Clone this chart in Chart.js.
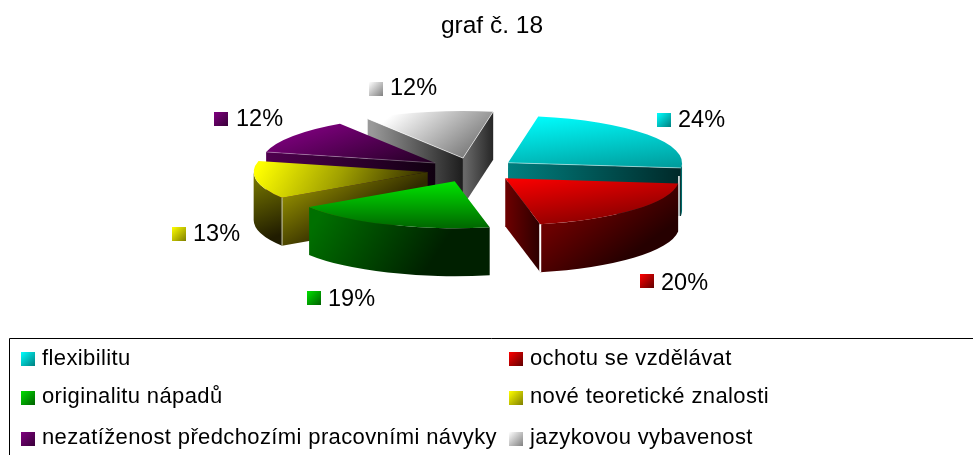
<!DOCTYPE html>
<html>
<head>
<meta charset="utf-8">
<style>html,body{margin:0;padding:0;background:#fff}#w{width:973px;height:455px;position:relative}</style>
<script src="https://cdn.jsdelivr.net/npm/chart.js@4/dist/chart.umd.min.js"></script>
</head>
<body>
<div id="w"><canvas id="c" width="973" height="455"></canvas></div>
<script>
const chartTitle = 'graf č. 18';
const categories = ['flexibilitu','ochotu se vzdělávat','originalitu nápadů','nové teoretické znalosti','nezatíženost předchozími pracovními návyky','jazykovou vybavenost'];
const values = [24,20,19,13,12,12];

// styles and geometry of the 3D look
const FONT = '"Liberation Sans", Arial, sans-serif';
const TILT = 0.27, CY = 170, EXPLODE = 45, DEPTH = 48, RADIUS = 174, ROTATION = 10;
const drawOrder = [5,4,3,2,0,1];
const swatchColors = [['#00ffff','#007f7f'],['#ff0000','#600000'],['#00e000','#006000'],['#ffff00','#7f7f00'],['#800080','#380038'],['#ffffff','#808080']];
// [x0,y0,x1,y1,[stops]] in picture coordinates
const topFills = [
  [530,115,640,190,['#00ffff','#008080']],
  [520,175,620,225,['#ff0000','#800000']],
  [0,183,0,226,['#00e000','#006c00']],
  [260,165,428,172,['#ffff00','#a0a000','#302a00']],
  [285,130,435,165,['#800080','#200020']],
  [385,120,495,130,['#ffffff','#808080']]
];
const rimFills = [
  [680,0,684,0,['#007070','#006060']],
  [570,215,610,270,['#6a0000','#260000']],
  [320,215,420,280,['#007000','#002000']],
  [255,170,280,235,['#7f7f00','#201c00']],
  [0,0,1,0,['#000','#000']],
  [0,0,1,0,['#000','#000']]
];
const startFaceFills = [null,null,null,
  [290,195,320,245,['#8a8500','#302a00']],
  [265,0,435,0,['#500050','#100010']],
  [372,0,465,0,['#999999','#1a1a1a']]
];
const endFaceFills = [
  [508,0,683,0,['#008080','#002828']],
  [504,0,538,0,['#700000','#300000']],
  null,null,null,
  [465,0,495,0,['#686868','#222222']]
];
const cornerLines = [[1,'#ffffff',1.5],[1,'#ffffff',2],null,[0,'#c8c8b0',1],null,null];
const topEdge = [0.45,0,0,0,0.25,0.6];
const labelPos = [[678,127],[661,290],[328,306],[193,241],[236,126],[390,95]];
const markerPos = [[657,113],[640,274],[307,291],[172,227],[214,112],[369,82]];
const legendPos = [[21,365,352],[509,365,352],[21,403,391],[509,403,391],[21,444,432],[509,444,432]];

function grad(ctx, spec){
  const [x0,y0,x1,y1,stops] = spec;
  const g = ctx.createLinearGradient(x0,y0,x1,y1);
  stops.forEach((s,i)=>g.addColorStop(i/(stops.length-1),s));
  return g;
}

function swatch(ctx,x,y,i){
  const g = ctx.createLinearGradient(x,y,x+14,y+14);
  g.addColorStop(0,swatchColors[i][0]);
  g.addColorStop(1,swatchColors[i][1]);
  ctx.fillStyle = g;
  ctx.fillRect(x,y,14,14);
}

const pie3d = {
  id:'pie3d',
  beforeDatasetDraw(chart,args){
    const ctx = chart.ctx, arcs = args.meta.data;
    const arcsR = arcs[0].outerRadius;
    const apex = a=>{
      const m=(a.startAngle+a.endAngle)/2;
      return [a.x+EXPLODE*Math.cos(m), CY+TILT*EXPLODE*Math.sin(m)];
    };
    const face = (A,t,spec)=>{
      const x=A[0]+arcsR*Math.cos(t), y=A[1]+TILT*arcsR*Math.sin(t);
      ctx.beginPath();
      ctx.moveTo(A[0],A[1]);ctx.lineTo(x,y);ctx.lineTo(x,y+DEPTH);ctx.lineTo(A[0],A[1]+DEPTH);ctx.closePath();
      ctx.fillStyle=grad(ctx,spec);ctx.fill();
    };
    drawOrder.forEach(i=>{
      const a=arcs[i], A=apex(a), t0=a.startAngle, t1=a.endAngle;
      if(startFaceFills[i] && Math.cos(t0)<0) face(A,t0,startFaceFills[i]);
      if(endFaceFills[i] && Math.cos(t1)>0) face(A,t1,endFaceFills[i]);
      const ta=Math.max(t0,0), tb=Math.min(t1,Math.PI);
      if(tb>ta){
        ctx.beginPath();
        ctx.ellipse(A[0],A[1],arcsR,arcsR*TILT,0,ta,tb);
        ctx.ellipse(A[0],A[1]+DEPTH,arcsR,arcsR*TILT,0,tb,ta,true);
        ctx.closePath();
        ctx.fillStyle=grad(ctx,rimFills[i]);ctx.fill();
      }
      // top surface: the library's own arc element under the tilt transform
      ctx.save();
      ctx.translate(0,CY);ctx.scale(1,TILT);ctx.translate(0,-a.y);
      const m=(t0+t1)/2;
      ctx.translate(EXPLODE*Math.cos(m),EXPLODE*Math.sin(m));
      a.draw(ctx);
      ctx.restore();
      if(topEdge[i]){
        ctx.strokeStyle='rgba(255,255,255,'+topEdge[i]+')';ctx.lineWidth=1;
        [t0,t1].forEach(t=>{
          if(Math.cos(t)<0 && t===t1) return;
          if(i===0 && t===t0) return;
          ctx.beginPath();ctx.moveTo(A[0],A[1]);
          ctx.lineTo(A[0]+arcsR*Math.cos(t),A[1]+TILT*arcsR*Math.sin(t));ctx.stroke();
        });
      }
      if(cornerLines[i]){
        const [w,col,lw]=cornerLines[i], t=w?t1:t0;
        const x=A[0]+arcsR*Math.cos(t)-(i===0?2:0), y=A[1]+TILT*arcsR*Math.sin(t);
        ctx.strokeStyle=col;ctx.lineWidth=lw;
        ctx.beginPath();ctx.moveTo(x,y+(i===0?8:0));ctx.lineTo(x,y+DEPTH);ctx.stroke();
      }
    });
    return false;
  },
  afterDraw(chart){
    const ctx=chart.ctx;
    ctx.save();
    ctx.textBaseline='alphabetic';ctx.textAlign='left';
    // percentage labels
    const total=values.reduce((s,v)=>s+v,0);
    values.forEach((v,i)=>{
      swatch(ctx,markerPos[i][0],markerPos[i][1],i);
      ctx.fillStyle='#000';
      ctx.font='23.5px '+FONT;
      ctx.fillText(Math.round(v/total*100)+'%',labelPos[i][0],labelPos[i][1]);
    });
    // legend box
    ctx.strokeStyle='#000';ctx.lineWidth=1;
    ctx.beginPath();ctx.moveTo(973,338.5);ctx.lineTo(9.5,338.5);ctx.lineTo(9.5,455);ctx.stroke();
    ctx.font='22px '+FONT;
    ctx.letterSpacing='0.38px';
    categories.forEach((c,i)=>{
      const [x,b,sy]=legendPos[i];
      swatch(ctx,x,sy,i);
      ctx.fillStyle='#000';
      ctx.fillText(c,x+21,b);
    });
    ctx.restore();
  }
};

new Chart(document.getElementById('c'),{
  type:'pie',
  data:{labels:categories,datasets:[{
    data:values,
    borderWidth:0,
    clip:false,
    backgroundColor(ctx){
      const c=ctx.chart, area=c.chartArea;
      if(!area||ctx.dataIndex===undefined) return '#888';
      const ay=(area.top+area.bottom)/2;
      const i=ctx.dataIndex;
      const m=((values.slice(0,i).reduce((s,v)=>s+v,0)+values[i]/2)/100*360+ROTATION-90)*Math.PI/180;
      // picture coordinates are mapped into the un-tilted, un-exploded arc space
      const [x0,y0,x1,y1,stops]=topFills[i];
      const dx=EXPLODE*Math.cos(m), dy=EXPLODE*Math.sin(m);
      const map=y=>ay+(y-CY)/TILT-dy;
      const g=c.ctx.createLinearGradient(x0-dx,map(y0),x1-dx,map(y1));
      stops.forEach((s,k)=>g.addColorStop(k/(stops.length-1),s));
      return g;
    }
  }]},
  options:{
    responsive:false,
    animation:false,
    events:[],
    rotation:ROTATION,
    radius:RADIUS,
    layout:{padding:{right:29}},
    plugins:{
      legend:{display:false},
      tooltip:{enabled:false},
      title:{display:true,text:chartTitle,color:'#000',align:'center',
        font:{family:FONT,size:24.5,weight:'normal'},padding:{top:12,bottom:0}}
    }
  },
  plugins:[pie3d,{id:'titleShift',beforeDraw(c){ if(!c.$s){c.titleBlock.left+=20;c.titleBlock.right+=20;c.$s=1;} }}]
});
</script>
</body>
</html>
